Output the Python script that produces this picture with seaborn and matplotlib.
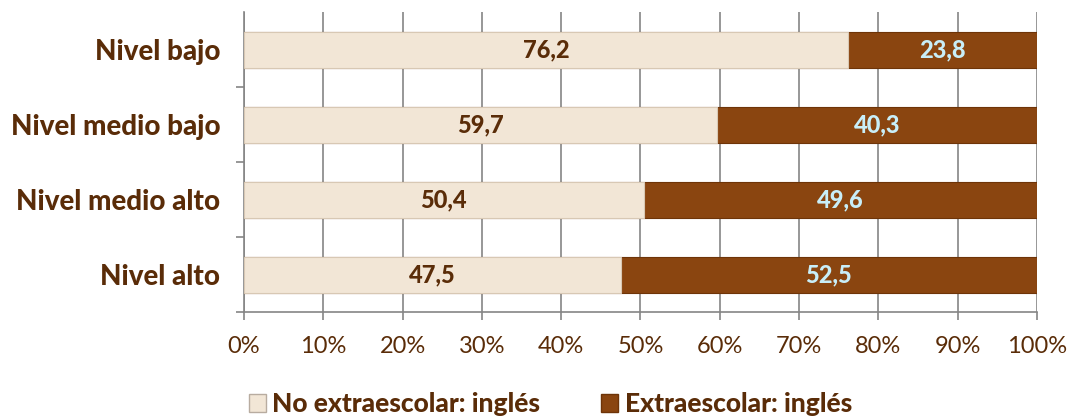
import matplotlib
matplotlib.use("Agg")
import matplotlib.pyplot as plt
import seaborn as sns
import pandas as pd
from matplotlib.patches import Patch

categories = ["Nivel bajo", "Nivel medio bajo", "Nivel medio alto", "Nivel alto"]
no_extra = [76.2, 59.7, 50.4, 47.5]
extra = [23.8, 40.3, 49.6, 52.5]
series_names = ["No extraescolar: inglés", "Extraescolar: inglés"]
tick_labels = ["0%", "10%", "20%", "30%", "40%", "50%", "60%", "70%", "80%", "90%", "100%"]

sns.set_theme(style="white")
plt.rcParams['font.family'] = ['Lato', 'DejaVu Sans']

BROWN_TEXT = "#5A2C08"
LIGHT = "#F2E6D6"
DARK = "#8A4510"
BLUE = "#C8EEF8"

df = pd.DataFrame({"cat": categories, "no": no_extra, "ex": extra})
df["total"] = df["no"] + df["ex"]

fig = plt.figure(figsize=(10.73, 4.2), dpi=100)
ax = fig.add_axes([0.2274, 0.2571, 0.9664 - 0.2274, 0.9714 - 0.2571])

sns.barplot(data=df, x="total", y="cat", order=categories, color=DARK,
            width=0.48, ax=ax, saturation=1, edgecolor="#6E3408", linewidth=0.8, zorder=3)
sns.barplot(data=df, x="no", y="cat", order=categories, color=LIGHT,
            width=0.48, ax=ax, saturation=1, edgecolor="#D8C8B4", linewidth=0.8, zorder=3)

ax.set_xlim(0, 100)
ax.set_ylim(3.5, -0.5)
ax.set_xticks(range(0, 101, 10))
ax.set_xticklabels(tick_labels, fontsize=17, color=BROWN_TEXT)
ax.set_yticks(range(len(categories)))
ax.set_yticklabels(categories, fontsize=20, fontweight="black", color=BROWN_TEXT)
ax.set_xlabel("")
ax.set_ylabel("")

ax.grid(axis="x", color="#858585", linewidth=1.2, zorder=0)
ax.set_axisbelow(True)
for s in ["top", "right"]:
    ax.spines[s].set_visible(False)
for s in ["left", "bottom"]:
    ax.spines[s].set_color("#858585")
    ax.spines[s].set_linewidth(1.2)

ax.tick_params(axis="y", length=0, pad=17)
ax.tick_params(axis="x", length=6, color="#858585", width=1.2, pad=11, direction="out", bottom=True)
ax.set_yticks([0.5, 1.5, 2.5, 3.5], minor=True)
ax.tick_params(axis="y", which="minor", length=6, color="#858585", width=1.2, left=True)

for i, (a, b) in enumerate(zip(no_extra, extra)):
    ax.text(a / 2, i, f"{a:.1f}".replace(".", ","), ha="center", va="center",
            fontsize=17, fontweight="black", color=BROWN_TEXT, zorder=5)
    ax.text(a + b / 2, i, f"{b:.1f}".replace(".", ","), ha="center", va="center",
            fontsize=17, fontweight="black", color=BLUE, zorder=5)

handles = [Patch(facecolor=LIGHT, edgecolor="#B8ACA0"), Patch(facecolor=DARK, edgecolor="#6E3408")]
leg = fig.legend(handles, series_names, loc="center", bbox_to_anchor=(0.513, 0.038), ncol=2,
                 frameon=False, handlelength=0.65, handleheight=0.65, handletextpad=0.25,
                 columnspacing=2.3, prop={"size": 19, "weight": "black"})
for t in leg.get_texts():
    t.set_color(BROWN_TEXT)

fig.savefig("out.png", dpi=100)
